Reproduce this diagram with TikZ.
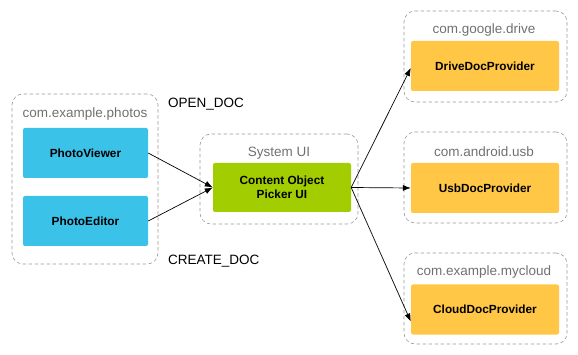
\documentclass[tikz,border=0pt]{standalone}
\usepackage{fontspec}
\setmainfont{Liberation Sans}
\usepackage{xcolor}
\usetikzlibrary{arrows.meta, positioning}
\definecolor{droid-blue}{HTML}{3BC2E9}
\definecolor{droid-green}{HTML}{A2CD00}
\definecolor{droid-orange}{HTML}{FFC745}
\definecolor{pkg-gray}{HTML}{999999}
\definecolor{pkg-text}{HTML}{707070}

\begin{document}
\begin{tikzpicture}[x=1pt, y=-1pt,
    pkg/.style={draw=pkg-gray, dash pattern=on 3.5pt off 2.5pt, rounded corners=11pt, line width=0.6pt},
    pkglabel/.style={text=pkg-text, font=\fontsize{13.5}{15}\selectfont, inner sep=0pt},
    app/.style={fill=#1, rounded corners=2pt, font=\fontsize{11.8}{14}\selectfont\bfseries, align=center, inner sep=0pt},
    intent/.style={font=\fontsize{13.5}{15}\selectfont, anchor=west, inner sep=0pt},
    arrow/.style={-{Latex[length=8pt, width=6pt]}, line width=0.7pt}
]
    \useasboundingbox (0,0) rectangle (578,355);

    % packages
    \node (photos) [pkg, minimum width=146pt, minimum height=170pt] at (85,179) {};
    \node (sysui) [pkg, minimum width=158pt, minimum height=90pt] at (279,179) {};
    \node (google) [pkg, minimum width=163pt, minimum height=91pt] at (485.5,56.5) {};
    \node (usbpkg) [pkg, minimum width=163pt, minimum height=91pt] at (485.5,177.5) {};
    \node (mycloud) [pkg, minimum width=163pt, minimum height=91pt] at (485.5,298.5) {};

    \node (photoslabel) [pkglabel] at (85,114) {com.example.photos};
    \node (sysuilabel) [pkglabel] at (279,153) {System UI};
    \node (googlelabel) [pkglabel] at (484,30) {com.google.drive};
    \node (usblabel) [pkglabel] at (484,152) {com.android.usb};
    \node (mycloudlabel) [pkglabel] at (484,272) {com.example.mycloud};

    % apps
    \node (viewer) [app=droid-blue, minimum width=125pt, minimum height=50pt] at (85.5,153) {PhotoViewer};
    \node (editor) [app=droid-blue, minimum width=125pt, minimum height=50pt] at (85.5,221) {PhotoEditor};
    \node (picker) [app=droid-green, minimum width=138pt, minimum height=49pt] at (282,187.5) {Content Object\\Picker UI};
    \node (drive) [app=droid-orange, minimum width=148pt, minimum height=50pt] at (485,66) {DriveDocProvider};
    \node (usb) [app=droid-orange, minimum width=148pt, minimum height=50pt] at (485,188) {UsbDocProvider};
    \node (cloud) [app=droid-orange, minimum width=148pt, minimum height=50pt] at (485,309.5) {CloudDocProvider};

    \node (open) [intent] at (168,104) {OPEN\_DOC};
    \node (create) [intent] at (168,261) {CREATE\_DOC};

    \draw [arrow] (viewer.east) -- (picker.west);
    \draw [arrow] (editor.east) -- (picker.west);
    \draw [arrow] (picker.east) -- ([yshift=-2pt]drive.west);
    \draw [arrow] (picker.east) -- (usb.west);
    \draw [arrow] (picker.east) -- ([yshift=-12pt]cloud.west);
\end{tikzpicture}
\end{document}
